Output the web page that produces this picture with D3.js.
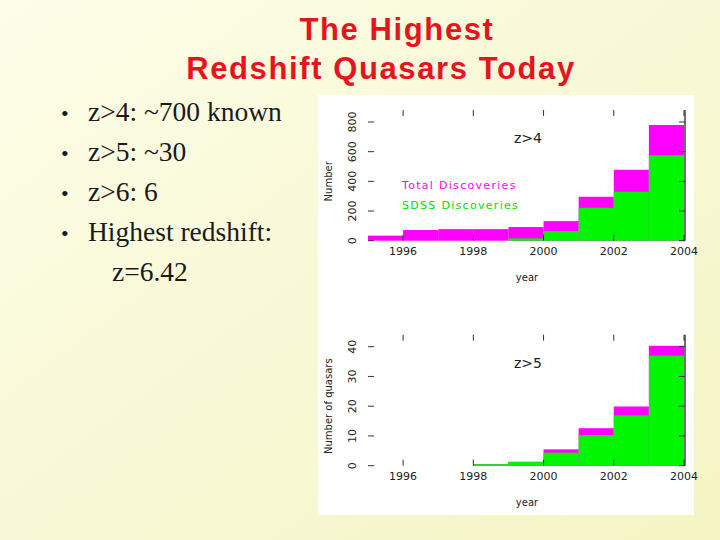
<!DOCTYPE html>
<html><head><meta charset="utf-8">
<script src="https://cdn.jsdelivr.net/npm/d3@7"></script>
<style>body{margin:0}</style></head>
<body><div id="canvas"></div>
<script>
"use strict"

// bins start at these years, one year wide
let years = [1995, 1996, 1997, 1998, 1999, 2000, 2001, 2002, 2003];
let z4Total = [34, 72, 78, 78, 92, 132, 296, 478, 780];
let z4Sdss = [0, 0, 0, 0, 16, 65, 222, 330, 576];
let z5Total = [0, 0, 0, 0.5, 1.3, 5.5, 12.6, 19.9, 40.3];
let z5Sdss = [0, 0, 0, 0.5, 1.3, 4.4, 10.3, 16.9, 37];
let yearTicks = [1996, 1998, 2000, 2002, 2004];
let bullets = ["z>4: ~700 known", "z>5: ~30", "z>6: 6", "Highest redshift:"];

let drawing = d3.select("#canvas").append("svg")
    .attr("width", 720).attr("height", 540);

/* pale yellow slide background */
let grad = drawing.append("defs").append("linearGradient")
    .attr("id", "bg").attr("x1", 0).attr("y1", 0).attr("x2", 1).attr("y2", 1);
grad.append("stop").attr("offset", 0).attr("stop-color", "#fdfde8");
grad.append("stop").attr("offset", 1).attr("stop-color", "#f4f4c4");
drawing.append("rect").attr("width", 720).attr("height", 540).attr("fill", "url(#bg)");

/* title */
drawing.append("text").attr("x", 397).attr("y", 40).attr("text-anchor", "middle")
    .attr("font-family", "Liberation Sans, Arial").attr("font-weight", "bold")
    .attr("font-size", 31).attr("letter-spacing", 1.6).attr("fill", "#e8141c").text("The Highest");
drawing.append("text").attr("x", 381).attr("y", 79).attr("text-anchor", "middle")
    .attr("font-family", "Liberation Sans, Arial").attr("font-weight", "bold")
    .attr("font-size", 31).attr("letter-spacing", 1.6).attr("fill", "#e8141c").text("Redshift Quasars Today");

/* bullet list */
bullets.forEach(function (b, i) {
    drawing.append("text").attr("x", 61).attr("y", 121 + i * 40)
        .attr("font-family", "Liberation Serif, Times New Roman").attr("font-size", 22)
        .attr("fill", "#1a1a1a").text("\u2022");
    drawing.append("text").attr("x", 88).attr("y", 121 + i * 40)
        .attr("font-family", "Liberation Serif, Times New Roman").attr("font-size", 27.5)
        .attr("fill", "#1a1a1a").text(b);
});
drawing.append("text").attr("x", 112).attr("y", 281)
    .attr("font-family", "Liberation Serif, Times New Roman").attr("font-size", 27.5)
    .attr("fill", "#1a1a1a").text("z=6.42");

/* white figure panel */
drawing.append("rect").attr("x", 318).attr("y", 95).attr("width", 376).attr("height", 420)
    .attr("fill", "white");

let x = d3.scaleLinear().domain([1995, 2004]).range([368, 684]);

function panel(total, sdss, yMax, yTicks, base, top, label, yTitle, legend) {
    let y = d3.scaleLinear().domain([0, yMax]).range([base, top]);
    let g = drawing.append("g").attr("font-family", "DejaVu Sans, sans-serif");

    g.selectAll(".tot").data(years).enter().append("rect")
        .filter((d, i) => total[i] > 0)
        .attr("x", d => x(d)).attr("width", x(1996) - x(1995))
        .attr("y", d => y(total[years.indexOf(d)]))
        .attr("height", d => base - y(total[years.indexOf(d)]))
        .attr("fill", "#ff00ff");
    g.selectAll(".sdss").data(years).enter().append("rect")
        .filter((d, i) => sdss[i] > 0)
        .attr("x", d => x(d)).attr("width", x(1996) - x(1995))
        .attr("y", d => y(sdss[years.indexOf(d)]))
        .attr("height", d => base - y(sdss[years.indexOf(d)]))
        .attr("fill", "#00f500");

    // frame pieces: right edge and tick marks
    g.append("line").attr("x1", 685).attr("x2", 685).attr("y1", top - 12).attr("y2", base)
        .attr("stroke", "#111").attr("stroke-width", 1.2);
    yTicks.forEach(function (t) {
        g.append("line").attr("x1", 368).attr("x2", 374).attr("y1", y(t)).attr("y2", y(t))
            .attr("stroke", "#333");
        g.append("line").attr("x1", 679).attr("x2", 685).attr("y1", y(t)).attr("y2", y(t))
            .attr("stroke", "#333");
        g.append("text").attr("transform", "translate(356," + y(t) + ") rotate(-90)")
            .attr("text-anchor", "middle").attr("font-size", 11).attr("fill", "#222").text(t);
    });
    yearTicks.forEach(function (t) {
        g.append("line").attr("x1", x(t)).attr("x2", x(t)).attr("y1", top - 12).attr("y2", top - 6)
            .attr("stroke", "#333");
        g.append("line").attr("x1", x(t)).attr("x2", x(t)).attr("y1", base - 6).attr("y2", base)
            .attr("stroke", "#333");
        g.append("text").attr("x", x(t)).attr("y", base + 14).attr("text-anchor", "middle")
            .attr("font-size", 11).attr("fill", "#222").text(t);
    });
    g.append("text").attr("x", 527).attr("y", base + 40).attr("text-anchor", "middle")
        .attr("font-size", 10).attr("fill", "#222").text("year");
    g.append("text").attr("transform", "translate(332," + (base + top) / 2 + ") rotate(-90)")
        .attr("text-anchor", "middle").attr("font-size", 10).attr("fill", "#222").text(yTitle);
    g.append("text").attr("x", 528).attr("y", top + 21).attr("text-anchor", "middle")
        .attr("font-size", 14).attr("fill", "#222").text(label);
    if (legend) {
        g.append("text").attr("x", 402).attr("y", 189).attr("font-size", 11)
            .attr("letter-spacing", 1.3).attr("fill", "#ff00ff").text("Total Discoveries");
        g.append("text").attr("x", 402).attr("y", 209).attr("font-size", 11)
            .attr("letter-spacing", 1.3).attr("fill", "#00e000").text("SDSS Discoveries");
    }
}

panel(z4Total, z4Sdss, 800, [0, 200, 400, 600, 800], 240.7, 122, "z>4", "Number", true);
panel(z5Total, z5Sdss, 40, [0, 10, 20, 30, 40], 465.7, 346.7, "z>5", "Number of quasars", false);
</script></body></html>
